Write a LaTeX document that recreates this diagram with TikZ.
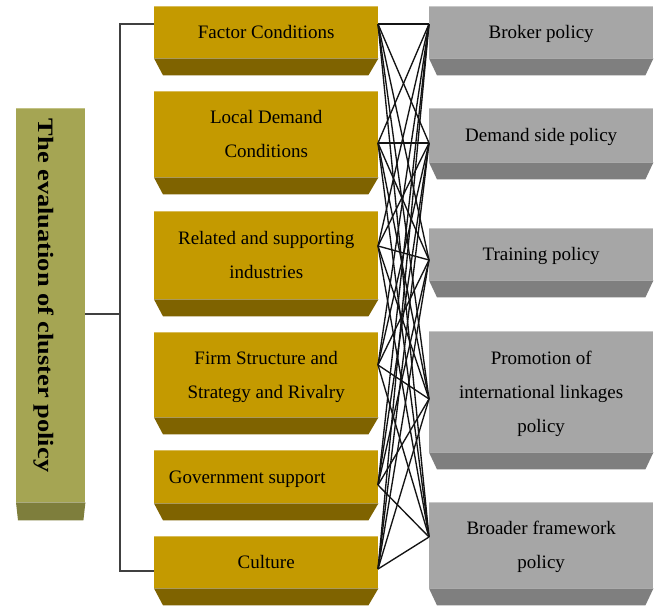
\documentclass[tikz,border=0pt]{standalone}
\usepackage{fontspec}
\setmainfont{Liberation Serif}
\usetikzlibrary{calc}

\definecolor{goldface}{HTML}{C49A00}
\definecolor{goldside}{HTML}{7F6300}
\definecolor{goldtop}{HTML}{D8BC5A}
\definecolor{greyface}{HTML}{A6A6A6}
\definecolor{greyside}{HTML}{7F7F7F}
\definecolor{greytop}{HTML}{C8C8C8}
\definecolor{oliveface}{HTML}{A5A553}
\definecolor{oliveside}{HTML}{7E7E3C}
\definecolor{olivetop}{HTML}{C2C285}

\tikzset{
  slab/.style={rectangle, draw=none, inner sep=0pt, anchor=north west,
    align=center, text=black, text depth=0pt, font=\fontsize{19}{34}\selectfont},
  factor/.style={slab, fill=goldface, minimum width=224pt},
  policy/.style={slab, fill=greyface, minimum width=224pt},
  link/.style={line width=1.35pt, draw=black!92},
  bracket/.style={line width=1.2pt, draw=black!75},
}

% bottom bevel of a slab: node, left inset, right inset, depth, colour
\newcommand\slabbevel[5]{%
  \fill[#5] (#1.south west) -- ($(#1.south west)+(#2,#4)$)
    -- ($(#1.south east)+(-#3,#4)$) -- (#1.south east) -- cycle;}
% light upper edge of a slab
\newcommand\slabtop[2]{%
  \draw[#2, line width=1.2pt] ($(#1.north west)+(0,0.6)$) -- ($(#1.north east)+(0,0.6)$);}

\begin{document}
\begin{tikzpicture}[x=1pt, y=-1pt]
\useasboundingbox (0,0) rectangle (658,606);
\fill[white] (0,0) rectangle (658,606);

% evaluation column
\node[slab, fill=oliveface, minimum width=69pt, minimum height=394pt] (ev) at (16,108) {};
\slabbevel{ev}{2}{2}{18}{oliveside}
\slabtop{ev}{olivetop}
\node[rotate=-90, anchor=base, inner sep=0pt, font=\fontsize{22}{26}\selectfont\bfseries]
  (title) at (38,295.5) {\scalebox{1.2}[1]{The evaluation of cluster policy}};

% factors
\node[factor, minimum height=52pt] (g1) at (154,6)   {Factor Conditions};
\node[factor, minimum height=86pt] (g2) at (154,91)  {Local Demand\\Conditions};
\node[factor, minimum height=88pt] (g3) at (154,211) {Related and supporting\\industries};
\node[factor, minimum height=85pt] (g4) at (154,332) {Firm Structure and\\Strategy and Rivalry};
\node[factor, minimum height=53pt] (g5) at (154,450) {Government support\hspace*{38pt}};
\node[factor, minimum height=52pt] (g6) at (154,536) {Culture};
\foreach \n in {g1,g2,g3,g4,g5,g6}{
  \slabbevel{\n}{9}{10}{17}{goldside}
  \slabtop{\n}{goldtop}
}

% policies
\node[policy, minimum height=52pt]  (p1) at (429,6)   {Broker policy};
\node[policy, minimum height=54pt]  (p2) at (429,108) {Demand side policy};
\node[policy, minimum height=52pt]  (p3) at (429,228) {Training policy};
\node[policy, minimum height=121pt] (p4) at (429,331) {Promotion of\\international linkages\\policy};
\node[policy, minimum height=86pt]  (p5) at (429,502) {Broader framework\\policy};
\foreach \n in {p1,p2,p3,p4,p5}{
  \slabbevel{\n}{8}{8}{17}{greyside}
  \slabtop{\n}{greytop}
}

% bracket joining the evaluation column to the factors
\coordinate (ev-out) at (85,314);
\coordinate (hub) at (120,314);
\coordinate (g1-in) at (154,24);
\coordinate (g6-in) at (154,571);
\draw[bracket] (ev-out) -- (hub);
\draw[bracket] (g1-in) -| (hub) |- (g6-in);

% every factor linked to every policy
\coordinate (g1-out) at (378,24);
\coordinate (g2-out) at (378,143);
\coordinate (g3-out) at (378,246);
\coordinate (g4-out) at (378,365);
\coordinate (g5-out) at (378,485);
\coordinate (g6-out) at (378,569);
\coordinate (p1-in) at (429,24);
\coordinate (p2-in) at (429,143);
\coordinate (p3-in) at (429,260);
\coordinate (p4-in) at (429,399);
\coordinate (p5-in) at (429,537);
\foreach \a in {1,...,6}{
  \foreach \b in {1,...,5}{
    \draw[link] (g\a-out) -- (p\b-in);
  }
}
\end{tikzpicture}
\end{document}
